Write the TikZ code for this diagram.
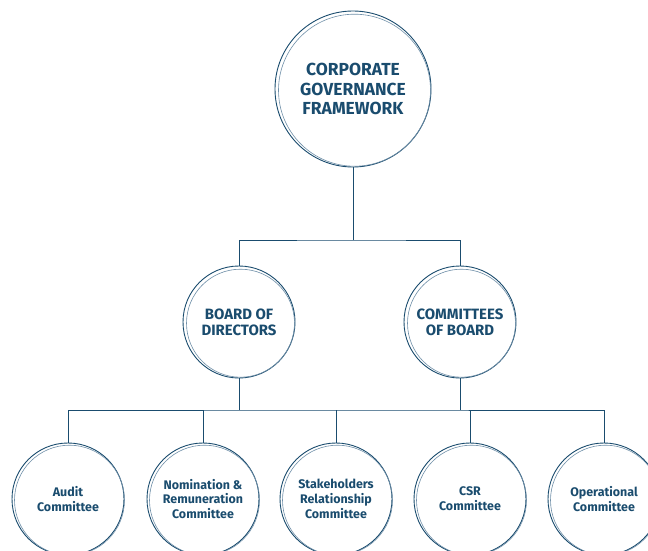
\documentclass[tikz,border=0pt]{standalone}
\usepackage{fontspec}
\setsansfont{Fira Sans}
\usepackage{tikz}
\definecolor{navy}{HTML}{1A4C6E}
\definecolor{paleline}{HTML}{6F8FA8}

\begin{document}
\begin{tikzpicture}[x=1bp,y=-1bp]
        \tikzstyle{link}=[draw=navy,line width=0.9bp]
        \tikzstyle{ring}=[circle,fill=white,draw=navy,line width=0.9bp,text=navy,align=center,inner sep=0pt,font=\sffamily\bfseries]
        \tikzstyle{second ring}=[draw=paleline,line width=0.6bp]
        \tikzstyle{big}=[ring,minimum size=156bp,font=\sffamily\bfseries\fontsize{17.5}{20}\selectfont]
        \tikzstyle{mid}=[ring,minimum size=112bp,font=\sffamily\bfseries\fontsize{15}{16}\selectfont]
        \tikzstyle{small}=[ring,minimum size=112bp,font=\sffamily\bfseries\fontsize{12.5}{15}\selectfont]

        \path[use as bounding box] (0,0) rectangle (648,551);

        \node[big] (cgf) at (353,89) {CORPORATE\\GOVERNANCE\\FRAMEWORK};
        \node[mid] (bod) at (239,322) {BOARD OF\\DIRECTORS};
        \node[mid] (cob) at (460,322) {COMMITTEES\\OF BOARD};

        \node[small] (audit) at (68,499) {Audit\\Committee};
        \node[small] (nomination) at (203,499) {Nomination \&\\Remuneration\\Committee};
        \node[small] (stake) at (336,499) {Stakeholders\\Relationship\\Committee};
        \node[small] (csr) at (470,499) {CSR\\Committee};
        \node[small] (oper) at (604,499) {Operational\\Committee};

        % sketchy second outlines
        \foreach \n/\r in {cgf/76,bod/54,cob/54,audit/55,nomination/55,stake/55,csr/55,oper/55}
            \draw[second ring] ([shift={(1.5,1.2)}]\n.center) circle[radius=\r];

        \coordinate (top bar) at (353,240);
        \coordinate (low bar) at (336,410);

        \draw[link] (cgf) -- (top bar);
        \draw[link] (bod.north) |- (top bar) -| (cob.north);

        \draw[link] (bod.south) -- (bod.south |- low bar);
        \draw[link] (cob.south) -- (cob.south |- low bar);
        \draw[link] (audit.north) |- (low bar) -| (oper.north);
        \foreach \n in {nomination,stake,csr}
            \draw[link] (\n.north) -- (\n.north |- low bar);
\end{tikzpicture}
\end{document}
